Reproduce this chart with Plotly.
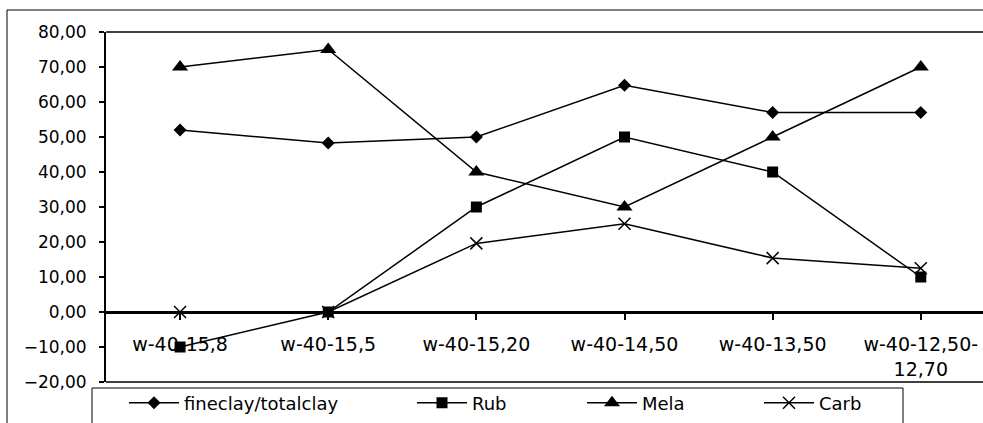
import plotly.graph_objects as go

categories = ["w-40-15,8", "w-40-15,5", "w-40-15,20", "w-40-14,50", "w-40-13,50", "w-40-12,50-<br>12,70"]
fineclay = [52.0, 48.3, 50.0, 64.8, 57.0, 57.0]
rub = [-10.0, 0.0, 30.0, 50.0, 40.0, 10.0]
mela = [70.0, 75.0, 40.0, 30.0, 50.0, 70.0]
carb = [0.0, 0.0, 19.6, 25.2, 15.4, 12.5]
y_ticks = [-20, -10, 0, 10, 20, 30, 40, 50, 60, 70, 80]

W, H = 983, 423
ML, MT, MB = 106, 32, 41
PW = W - ML
PH = H - MT - MB

def px_x(p):
    return (p - ML) / PW

def px_y(p):
    return (H - MB - p) / PH

series = [
    ("fineclay/totalclay", fineclay, dict(symbol="diamond", size=10), 130),
    ("Rub", rub, dict(symbol="square", size=11), 418),
    ("Mela", mela, dict(symbol="triangle-up", size=14), 588),
    ("Carb", carb, dict(symbol="x-thin", size=12, line=dict(width=1.5, color="black")), 765),
]

fig = go.Figure()
legend_layouts = {}
for i, (name, vals, mk, lx) in enumerate(series):
    lname = "legend" if i == 0 else f"legend{i+1}"
    fig.add_trace(go.Scatter(
        x=list(range(len(categories))), y=vals, name=name, mode="lines+markers",
        line=dict(color="black", width=1.5),
        marker=dict(color="black", **mk),
        legend=lname, cliponaxis=False,
    ))
    legend_layouts[lname] = dict(
        x=px_x(lx - 6), y=px_y(403), xanchor="left", yanchor="middle",
        bgcolor="rgba(0,0,0,0)", borderwidth=0, itemwidth=50,
        font=dict(family="DejaVu Sans", size=18, color="black"),
    )

fig.update_layout(
    width=W, height=H,
    margin=dict(l=ML, r=0, t=MT, b=MB, pad=0),
    paper_bgcolor="white", plot_bgcolor="white",
    separators=",.",
    showlegend=True,
    **legend_layouts,
    xaxis=dict(
        tickmode="array", tickvals=list(range(len(categories))), ticktext=categories,
        range=[-0.5, 5.42], anchor="free", position=px_y(312),
        showline=True, linecolor="black", linewidth=3,
        ticks="outside", ticklen=6, tickwidth=2, tickcolor="black",
        showgrid=False, zeroline=False,
        tickfont=dict(family="DejaVu Sans", size=19, color="black"),
        ticklabelstandoff=8,
    ),
    yaxis=dict(
        range=[-20, 80], tickvals=y_ticks, tickformat=".2f",
        showline=True, linecolor="black", linewidth=2,
        ticks="outside", ticklen=5, tickwidth=1.5, tickcolor="black",
        showgrid=False, zeroline=False,
        tickfont=dict(family="DejaVu Sans", size=17, color="black"),
        ticklabelstandoff=9,
    ),
    shapes=[
        dict(type="rect", xref="paper", yref="paper", x0=px_x(7), x1=1.05, y0=px_y(440), y1=px_y(10),
             line=dict(color="black", width=1), layer="below"),
        dict(type="line", xref="paper", yref="paper", x0=0, x1=1.05, y0=1, y1=1,
             line=dict(color="black", width=1.5)),
        dict(type="line", xref="paper", yref="paper", x0=0, x1=1.05, y0=0, y1=0,
             line=dict(color="black", width=1.5)),
        dict(type="rect", xref="paper", yref="paper", x0=px_x(92), x1=px_x(903), y0=px_y(440), y1=px_y(388),
             line=dict(color="black", width=1), fillcolor="white", layer="below"),
    ],
)

fig.write_html("out.html")
